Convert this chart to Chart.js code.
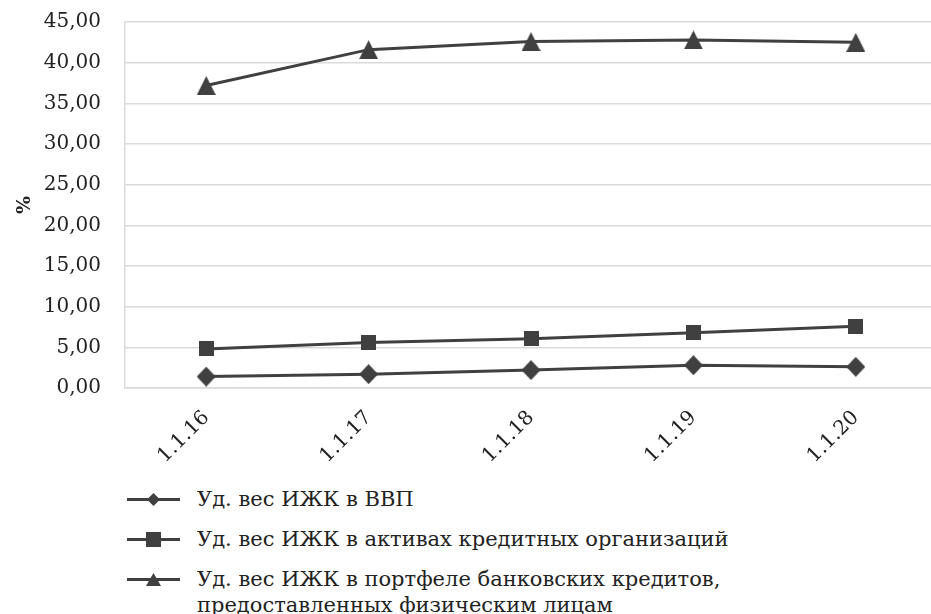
<!DOCTYPE html>
<html>
<head>
<meta charset="utf-8">
<script src="https://cdn.jsdelivr.net/npm/chart.js@4"></script>
<style>
  html, body { margin: 0; padding: 0; background: #fff; overflow: hidden; }
  #wrap { position: relative; width: 944px; height: 614px; }
  #box { position: absolute; left: 0; top: -14px; width: 944px; height: 484px; }
  #legend { position: absolute; left: 127px; top: 486px; font-family: "DejaVu Serif", serif; font-size: 21px; color: #222; }
  .item { display: flex; align-items: flex-start; line-height: 26px; }
  .item svg { flex: none; margin-right: 17px; margin-top: 6px; }
</style>
</head>
<body>
<div id="wrap">
  <div id="box"><canvas id="c"></canvas></div>
  <div id="legend"></div>
</div>
<script>
const labels = ["1.1.16", "1.1.17", "1.1.18", "1.1.19", "1.1.20"];
const gdpShare = [1.4, 1.7, 2.2, 2.8, 2.6];
const assetsShare = [4.8, 5.6, 6.05, 6.8, 7.6];
const retailShare = [37.2, 41.6, 42.6, 42.8, 42.5];
const seriesNames = [
  "Уд. вес ИЖК в ВВП",
  "Уд. вес ИЖК в активах кредитных организаций",
  "Уд. вес ИЖК в портфеле банковских кредитов,\nпредоставленных физическим лицам"
];
const yTicks = [0, 5, 10, 15, 20, 25, 30, 35, 40, 45];

const ink = "#404040";
const serif = "DejaVu Serif";

function $(id) { return document.getElementById(id); }

// marker glyphs drawn once, placed by the chart at each data point
function marker(kind, w, h) {
  const cv = document.createElement("canvas");
  cv.width = w; cv.height = h;
  const g = cv.getContext("2d");
  g.fillStyle = ink;
  g.beginPath();
  if (kind === "diamond") {
    g.moveTo(w / 2, 0); g.lineTo(w, h / 2); g.lineTo(w / 2, h); g.lineTo(0, h / 2);
  } else if (kind === "square") {
    g.rect(0, 0, w, h);
  } else {
    g.moveTo(w / 2, 0); g.lineTo(w, h); g.lineTo(0, h);
  }
  g.closePath();
  g.fill();
  return cv;
}

const kinds = ["diamond", "square", "triangle"];
const series = [gdpShare, assetsShare, retailShare];
const sizes = [[19, 20], [15, 15], [19, 19]];

const chart = new Chart($("c"), {
  type: "line",
  data: {
    labels,
    datasets: series.map((d, i) => ({
      label: seriesNames[i],
      data: d,
      borderColor: ink,
      backgroundColor: ink,
      borderWidth: 3,
      pointStyle: marker(kinds[i], sizes[i][0], sizes[i][1]),
      tension: 0
    }))
  },
  options: {
    responsive: true,
    maintainAspectRatio: false,
    animation: false,
    layout: { padding: { top: 0, right: 0, left: 14, bottom: 0 } },
    plugins: { legend: { display: false }, tooltip: { enabled: false } },
    scales: {
      x: {
        offset: true,
        grid: { display: false, drawTicks: false },
        border: { color: "#d9d9d9", width: 1.5 },
        ticks: {
          color: "#222", padding: 18, minRotation: 45, maxRotation: 45,
          font: { family: serif, size: 20 }
        },
        afterFit: s => { s.height = 82; }
      },
      y: {
        min: 0, max: 45,
        afterBuildTicks: s => { s.ticks = yTicks.map(v => ({ value: v })); },
        grid: { color: "#d9d9d9", lineWidth: 1.5, drawTicks: false },
        border: { color: "#d9d9d9", width: 1.5 },
        title: {
          display: true, text: "%", color: "#222",
          font: { family: serif, size: 19, weight: "bold" },
          padding: { top: 0, bottom: 0 }
        },
        ticks: {
          color: "#222", padding: 24,
          font: { family: serif, size: 20 },
          callback: v => v.toFixed(2).replace(".", ",")
        },
        afterFit: s => { s.width = 111; }
      }
    }
  }
});

// legend drawn as html so the long label can wrap onto two lines
const legSizes = [[13, 13], [15, 15], [15, 13]];
const legGaps = [14, 14, 0];
const leg = $("legend");
seriesNames.forEach((name, i) => {
  const row = document.createElement("div");
  row.className = "item";
  row.style.marginBottom = legGaps[i] + "px";
  const [w, h] = legSizes[i];
  const cx = 26.5, cy = 7.5;
  let shape;
  if (kinds[i] === "diamond") shape = `<polygon points="${cx},${cy - h / 2} ${cx + w / 2},${cy} ${cx},${cy + h / 2} ${cx - w / 2},${cy}" fill="${ink}"/>`;
  else if (kinds[i] === "square") shape = `<rect x="${cx - w / 2}" y="${cy - h / 2}" width="${w}" height="${h}" fill="${ink}"/>`;
  else shape = `<polygon points="${cx},${cy - h / 2} ${cx + w / 2},${cy + h / 2} ${cx - w / 2},${cy + h / 2}" fill="${ink}"/>`;
  row.innerHTML = `<svg width="53" height="15"><line x1="0" y1="${cy}" x2="53" y2="${cy}" stroke="${ink}" stroke-width="3"/>${shape}</svg><span>${name.replace("\n", "<br>")}</span>`;
  leg.appendChild(row);
});
</script>
</body>
</html>
